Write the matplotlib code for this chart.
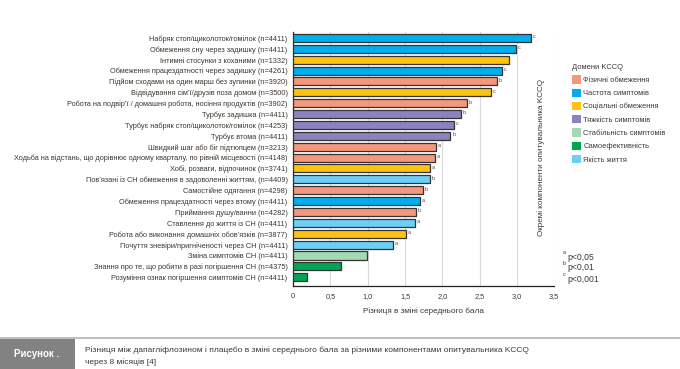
import matplotlib
matplotlib.use("Agg")
import matplotlib.pyplot as plt
from matplotlib.patches import Patch, Rectangle

plt.rcParams["font.family"] = ["Liberation Sans", "DejaVu Sans"]

# ── data ────────────────────────────────────────────────────────────
labels = [
    "Набряк стоп/щиколоток/гомілок (n=4411)",
    "Обмеження сну через задишку (n=4411)",
    "Інтимні стосунки з коханими (n=1332)",
    "Обмеження працездатності через задишку (n=4261)",
    "Підйом сходами на один марш без зупинки (n=3920)",
    "Відвідування сім’ї/друзів поза домом (n=3500)",
    "Робота на подвір’ї / домашня робота, носіння продуктів (n=3902)",
    "Турбує задишка (n=4411)",
    "Турбує набряк стоп/щиколоток/гомілок (n=4253)",
    "Турбує втома (n=4411)",
    "Швидкий шаг або біг підтюпцем (n=3213)",
    "Ходьба на відстань, що дорівнює одному кварталу, по рівній місцевості (n=4148)",
    "Хобі, розваги, відпочинок (n=3741)",
    "Пов’язані із СН обмеження в задоволенні життям, (n=4409)",
    "Самостійне одягання (n=4298)",
    "Обмеження працездатності через втому (n=4411)",
    "Приймання душу/ванни (n=4282)",
    "Ставлення до життя із СН (n=4411)",
    "Робота або виконання домашніх обов’язків (n=3877)",
    "Почуття зневіри/пригніченості через СН (n=4411)",
    "Зміна симптомів СН (n=4411)",
    "Знання про те, що робити в разі погіршення СН (n=4375)",
    "Розуміння ознак погіршення симптомів СН (n=4411)",
]
values = [3.19, 2.99, 2.89, 2.80, 2.73, 2.65, 2.33, 2.25, 2.16, 2.11,
          1.92, 1.90, 1.84, 1.83, 1.74, 1.70, 1.65, 1.63, 1.51, 1.34,
          0.99, 0.64, 0.19]
domains = ["freq", "freq", "social", "freq", "phys", "social", "phys",
           "sev", "sev", "sev", "phys", "phys", "social", "qol", "phys",
           "freq", "phys", "qol", "social", "qol", "stab", "self", "self"]
signif = ["c", "c", "", "c", "b", "c", "b", "b", "c", "b", "a", "a", "a",
          "b", "b", "a", "b", "a", "a", "a", "", "", ""]

domain_keys = ["phys", "freq", "social", "sev", "stab", "self", "qol"]
domain_names = ["Фізичні обмеження", "Частота симптомів", "Соціальні обмеження",
                "Тяжкість симптомів", "Стабільність симптомів", "Самоефективність",
                "Якість життя"]
domain_colors = ["#F4977C", "#00AEEF", "#FFC20E", "#8C82C0",
                 "#A6D8B4", "#00A651", "#6DCFF6"]

xticks = [0, 0.5, 1.0, 1.5, 2.0, 2.5, 3.0, 3.5]
xticklabels = ["0", "0,5", "1,0", "1,5", "2,0", "2,5", "3,0", "3,5"]

footnote_letters = ["a", "b", "c"]
footnote_p = ["p<0,05", "p<0,01", "p<0,001"]

text_col = "#3d3833"
color_of = dict(zip(domain_keys, domain_colors))

# ── figure ──────────────────────────────────────────────────────────
fig = plt.figure(figsize=(6.8, 3.69), dpi=100)
ax = fig.add_axes([0.431, 0.225, 0.384, 0.687])

ypos = list(range(len(values)))
ax.barh(ypos, values, height=0.74, color=[color_of[d] for d in domains],
        edgecolor="#333333", linewidth=0.9, zorder=3)
for y, v, s in zip(ypos, values, signif):
    if s:
        ax.text(v + 0.025, y - 0.1, s, fontsize=4, color="#5a5048",
                va="center", ha="left")

ax.set_ylim(22.8, -0.5)
ax.set_xlim(0, 3.5)
ax.set_yticks(ypos)
ax.set_yticklabels(labels, fontsize=5.35, color=text_col)
ax.set_xticks(xticks)
ax.set_xticklabels(xticklabels, fontsize=5.3, color=text_col)
ax.tick_params(axis="y", length=0, pad=4)
ax.tick_params(axis="x", length=0, pad=5)
ax.grid(axis="x", color="#d9d9d9", linewidth=0.8, zorder=0)
for side in ("top", "right"):
    ax.spines[side].set_visible(False)
for side in ("left", "bottom"):
    ax.spines[side].set_color("#222222")
    ax.spines[side].set_linewidth(0.9)
ax.set_xlabel("Різниця в зміні середнього бала", fontsize=5.9,
              color=text_col, labelpad=5)

fig.text(541 / 680, 1 - 157 / 369, "Окремі компоненти опитувальника KCCQ",
         rotation=90, fontsize=5.9, color=text_col, ha="center", va="center")

handles = [Patch(facecolor=c, edgecolor="none") for c in domain_colors]
leg = fig.legend(handles, domain_names, loc="upper left",
                 bbox_to_anchor=(565 / 680, 1 - 57 / 369), frameon=False,
                 fontsize=5.4, title="Домени KCCQ", title_fontsize=5.4,
                 handlelength=1.25, handleheight=1.3, handletextpad=0.3,
                 labelspacing=0.62, alignment="left")
for t in leg.get_texts():
    t.set_color(text_col)
leg.get_title().set_color(text_col)

for i, (s, p) in enumerate(zip(footnote_letters, footnote_p)):
    y = 1 - (257 + 11 * i) / 369
    fig.text(563 / 680, y + 0.012, s, fontsize=4, color=text_col,
             va="center", ha="left")
    fig.text(567 / 680, y, p, fontsize=6.2, color=text_col,
             va="center", ha="left")

# ── caption band ────────────────────────────────────────────────────
fig.add_artist(plt.Line2D([0, 1], [1 - 338 / 369] * 2, color="#b3b3b3",
                          linewidth=1.2, transform=fig.transFigure))
fig.add_artist(Rectangle((0, 0), 75 / 680, 1 - 338.5 / 369,
                         facecolor="#828282", edgecolor="none",
                         transform=fig.transFigure))
fig.text(37 / 680, 1 - 354 / 369, "Рисунок .", fontsize=7, fontweight="bold",
         color="white", ha="center", va="center")
fig.text(85 / 680, 1 - 350 / 369,
         "Різниця між дапагліфлозином і плацебо в зміні середнього бала за "
         "різними компонентами опитувальника KCCQ",
         fontsize=6.05, color=text_col, ha="left", va="center")
fig.text(85 / 680, 1 - 362 / 369, "через 8 місяців [4]",
         fontsize=6.05, color=text_col, ha="left", va="center")

fig.savefig("out.png", dpi=100)
